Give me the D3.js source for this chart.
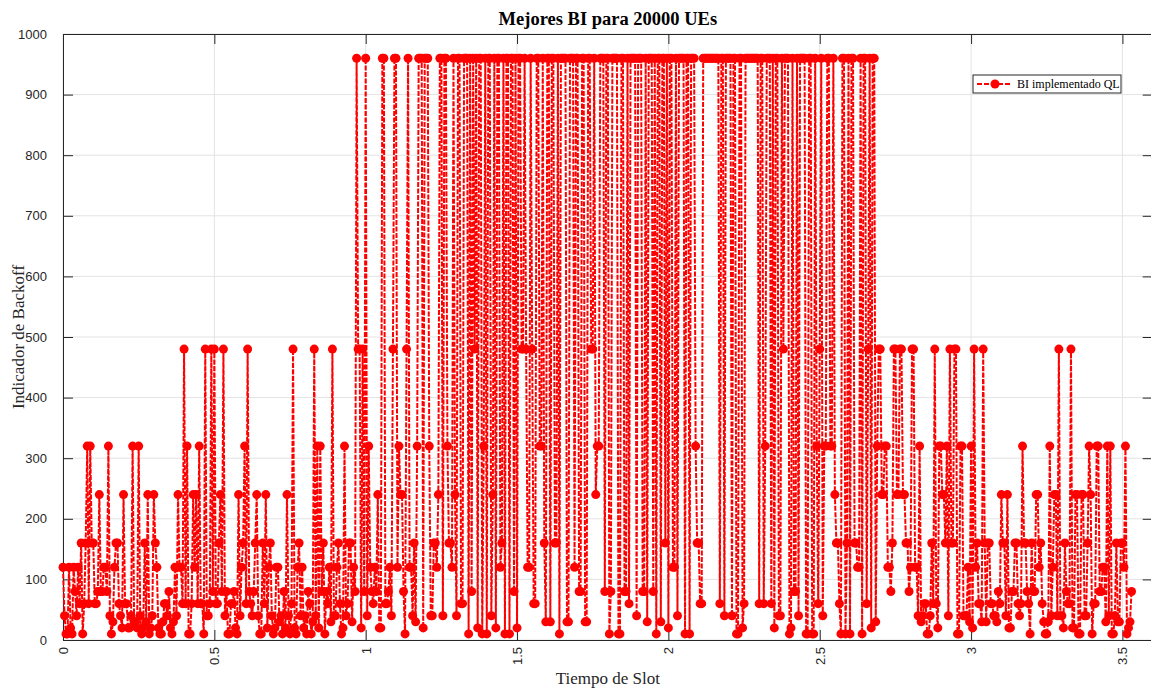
<!DOCTYPE html>
<html>
<head>
<meta charset="utf-8">
<script src="https://cdn.jsdelivr.net/npm/d3@7"></script>
<style>
  html, body { margin: 0; padding: 0; background: #ffffff; }
  svg { display: block; }
</style>
</head>
<body>
<svg id="chart" width="1151" height="690"></svg>
<script>
// ---- data ----
const chartTitle = "Mejores BI para 20000 UEs";
const xLabel = "Tiempo de Slot";
const yLabel = "Indicador de Backoff";
const seriesName = "BI implementado QL";
const slotStep = 0.005; // spacing between consecutive samples (Tiempo de Slot)
const biValues = [
  120,40,10,10,120,20,10,120,80,40,120,60,160,10,60,160,320,60,320,160,
  160,60,60,80,240,80,80,120,120,80,320,40,10,30,120,160,160,60,40,20,
  240,60,60,20,20,40,320,30,30,20,320,40,10,20,160,30,240,10,20,40,
  240,160,120,20,10,10,30,60,60,40,80,20,10,30,120,40,240,120,120,60,
  480,60,320,10,10,60,240,120,240,60,320,60,60,10,480,40,40,60,480,80,
  480,60,60,160,240,80,480,40,80,10,10,60,60,80,20,10,240,40,120,160,
  320,60,480,80,60,40,80,160,240,40,10,10,160,60,240,20,120,160,40,10,
  20,120,120,30,40,10,80,20,240,40,10,60,480,20,10,120,160,40,120,20,
  40,10,80,60,10,30,480,40,320,20,320,80,160,10,80,60,120,30,480,40,
  40,120,160,60,10,20,320,40,60,160,160,30,120,80,960,480,480,20,480,80,
  960,40,320,120,80,60,120,80,240,20,20,960,960,60,60,80,120,40,480,960,
  960,120,320,240,240,80,10,480,960,120,120,40,160,30,320,960,960,960,20,960,
  960,960,320,40,40,160,160,120,240,960,960,40,960,960,320,160,160,120,960,240,
  40,960,960,60,60,960,960,960,10,960,80,960,480,960,20,960,960,10,320,960,
  10,960,960,40,240,960,20,960,960,120,160,960,10,960,960,10,960,960,80,960,
  20,960,960,480,480,960,480,120,120,960,480,60,60,960,960,320,320,960,160,30,
  960,960,30,960,960,160,160,960,10,960,960,960,960,30,30,960,960,960,120,960,
  960,80,80,960,960,30,30,960,960,480,480,960,240,320,320,960,960,960,80,960,
  960,10,80,960,960,960,960,10,10,960,960,80,80,960,60,960,960,960,960,40,
  960,960,960,80,80,960,30,960,960,960,80,960,10,960,960,30,960,960,160,960,
  20,960,960,120,120,960,40,960,960,960,960,10,960,960,10,960,960,960,320,160,
  160,60,60,960,960,960,960,960,960,960,960,960,960,960,60,960,960,40,960,960,
  960,960,40,960,960,10,10,960,960,20,60,960,960,960,960,960,960,960,960,960,
  60,960,960,60,320,960,960,960,60,960,20,960,960,40,40,960,480,960,960,960,
  10,20,960,80,80,960,40,960,960,960,960,10,10,960,960,10,10,960,320,60,
  480,960,40,320,320,960,960,320,320,960,240,160,160,60,10,960,960,10,160,960,
  10,960,960,160,160,120,120,960,10,960,960,60,480,960,20,960,960,30,320,480,
  480,240,240,320,320,120,120,80,160,480,480,240,240,480,480,240,240,160,160,80,
  120,480,480,120,120,40,320,30,40,60,60,10,10,40,160,60,480,60,20,320,
  320,240,240,160,320,40,480,160,160,480,480,10,10,320,320,40,40,40,120,30,
  320,20,480,120,160,60,60,30,480,160,30,160,160,60,60,40,40,30,80,60,
  240,160,160,40,240,20,20,80,80,160,160,60,40,60,320,160,160,80,60,10,
  160,80,80,240,240,120,160,60,30,10,10,30,320,40,120,240,240,40,480,40,
  40,20,160,80,60,60,480,20,20,240,240,10,10,240,240,40,40,160,320,240,
  10,60,60,320,320,80,80,120,120,30,320,40,320,10,10,40,160,30,30,160,
  160,120,320,10,20,30,80
];
const xTicks = [0, 0.5, 1, 1.5, 2, 2.5, 3, 3.5];
const yTicks = [0, 100, 200, 300, 400, 500, 600, 700, 800, 900, 1000];
const xDomain = [0, 3.6];
const yDomain = [0, 1000];

// ---- layout ----
const plot = { left: 63, top: 34, right: 1152.7, bottom: 640 };
const axisColor = "#262626";
const gridColor = "#e3e3e3";
const red = "#ff0000";

const svg = d3.select("#chart");
const x = d3.scaleLinear().domain(xDomain).range([plot.left, plot.right]);
const y = d3.scaleLinear().domain(yDomain).range([plot.bottom, plot.top]);

const points = biValues.map((v, i) => ({ t: i * slotStep, v }));

// grid
const grid = svg.append("g");
grid.selectAll("line.gx").data(xTicks).join("line")
  .attr("x1", d => x(d)).attr("x2", d => x(d))
  .attr("y1", plot.top).attr("y2", plot.bottom)
  .attr("stroke", gridColor).attr("stroke-width", 1);
grid.selectAll("line.gy").data(yTicks).join("line")
  .attr("x1", plot.left).attr("x2", plot.right)
  .attr("y1", d => y(d)).attr("y2", d => y(d))
  .attr("stroke", gridColor).attr("stroke-width", 1);

// axes (MATLAB style: ticks inside, box on)
const tickLen = 10;
const axL = svg.append("g").attr("transform", `translate(${plot.left},0)`)
  .call(d3.axisLeft(y).tickValues(yTicks).tickSizeInner(-tickLen).tickSizeOuter(0)
    .tickPadding(6 + tickLen).tickFormat(d3.format("d")));
const axR = svg.append("g").attr("transform", `translate(${plot.right},0)`)
  .call(d3.axisRight(y).tickValues(yTicks).tickSizeInner(-tickLen).tickSizeOuter(0).tickFormat(""));
const axB = svg.append("g").attr("transform", `translate(0,${plot.bottom})`)
  .call(d3.axisBottom(x).tickValues(xTicks).tickSizeInner(-tickLen).tickSizeOuter(0).tickFormat(d3.format("")));
const axT = svg.append("g").attr("transform", `translate(0,${plot.top})`)
  .call(d3.axisTop(x).tickValues(xTicks).tickSizeInner(-tickLen).tickSizeOuter(0).tickFormat(""));

[axL, axR, axB, axT].forEach(g => {
  g.select(".domain").attr("stroke", axisColor).attr("stroke-width", 1);
  g.selectAll(".tick line").attr("stroke", axisColor).attr("stroke-width", 1);
  g.selectAll(".tick text").attr("fill", axisColor)
    .style("font-family", "'Liberation Sans', Arial, Helvetica, sans-serif")
    .style("font-size", "13px");
});
// rotated x tick labels
axB.selectAll(".tick text")
  .attr("text-anchor", "end")
  .attr("y", null).attr("dy", "0.35em")
  .attr("transform", "translate(0,7) rotate(-90)");

// series line
const line = d3.line().x(d => x(d.t)).y(d => y(d.v));
svg.append("path").datum(points)
  .attr("d", line)
  .attr("fill", "none")
  .attr("stroke", red)
  .attr("stroke-width", 2)
  .attr("stroke-dasharray", "5,1.5")
  .attr("stroke-linejoin", "round");
svg.append("g").selectAll("circle").data(points).join("circle")
  .attr("cx", d => x(d.t)).attr("cy", d => y(d.v))
  .attr("r", 4.5).attr("fill", red);

// title and labels
svg.append("text").attr("x", (plot.left + plot.right) / 2).attr("y", 25)
  .attr("text-anchor", "middle")
  .style("font-family", "'Liberation Serif', 'Times New Roman', serif")
  .style("font-weight", "bold").style("font-size", "18.5px").attr("fill", "#000")
  .text(chartTitle);
svg.append("text").attr("x", (plot.left + plot.right) / 2).attr("y", 684)
  .attr("text-anchor", "middle")
  .style("font-family", "'Liberation Serif', 'Times New Roman', serif")
  .style("font-size", "17px").attr("fill", "#262626")
  .text(xLabel);
svg.append("text")
  .attr("transform", `translate(24,${(plot.top + plot.bottom) / 2}) rotate(-90)`)
  .attr("text-anchor", "middle")
  .style("font-family", "'Liberation Serif', 'Times New Roman', serif")
  .style("font-size", "17px").attr("fill", "#262626")
  .text(yLabel);

// legend
const lg = svg.append("g").attr("transform", "translate(973,75)");
lg.append("rect").attr("width", 148).attr("height", 18)
  .attr("fill", "#fff").attr("stroke", axisColor).attr("stroke-width", 1);
lg.append("line").attr("x1", 4).attr("x2", 39).attr("y1", 9).attr("y2", 9)
  .attr("stroke", red).attr("stroke-width", 2).attr("stroke-dasharray", "5,2");
lg.append("circle").attr("cx", 22).attr("cy", 9).attr("r", 4.5).attr("fill", red);
lg.append("text").attr("x", 44).attr("y", 13)
  .style("font-family", "'Liberation Serif', 'Times New Roman', serif")
  .style("font-size", "12px").attr("fill", "#000")
  .text(seriesName);
</script>
</body>
</html>
